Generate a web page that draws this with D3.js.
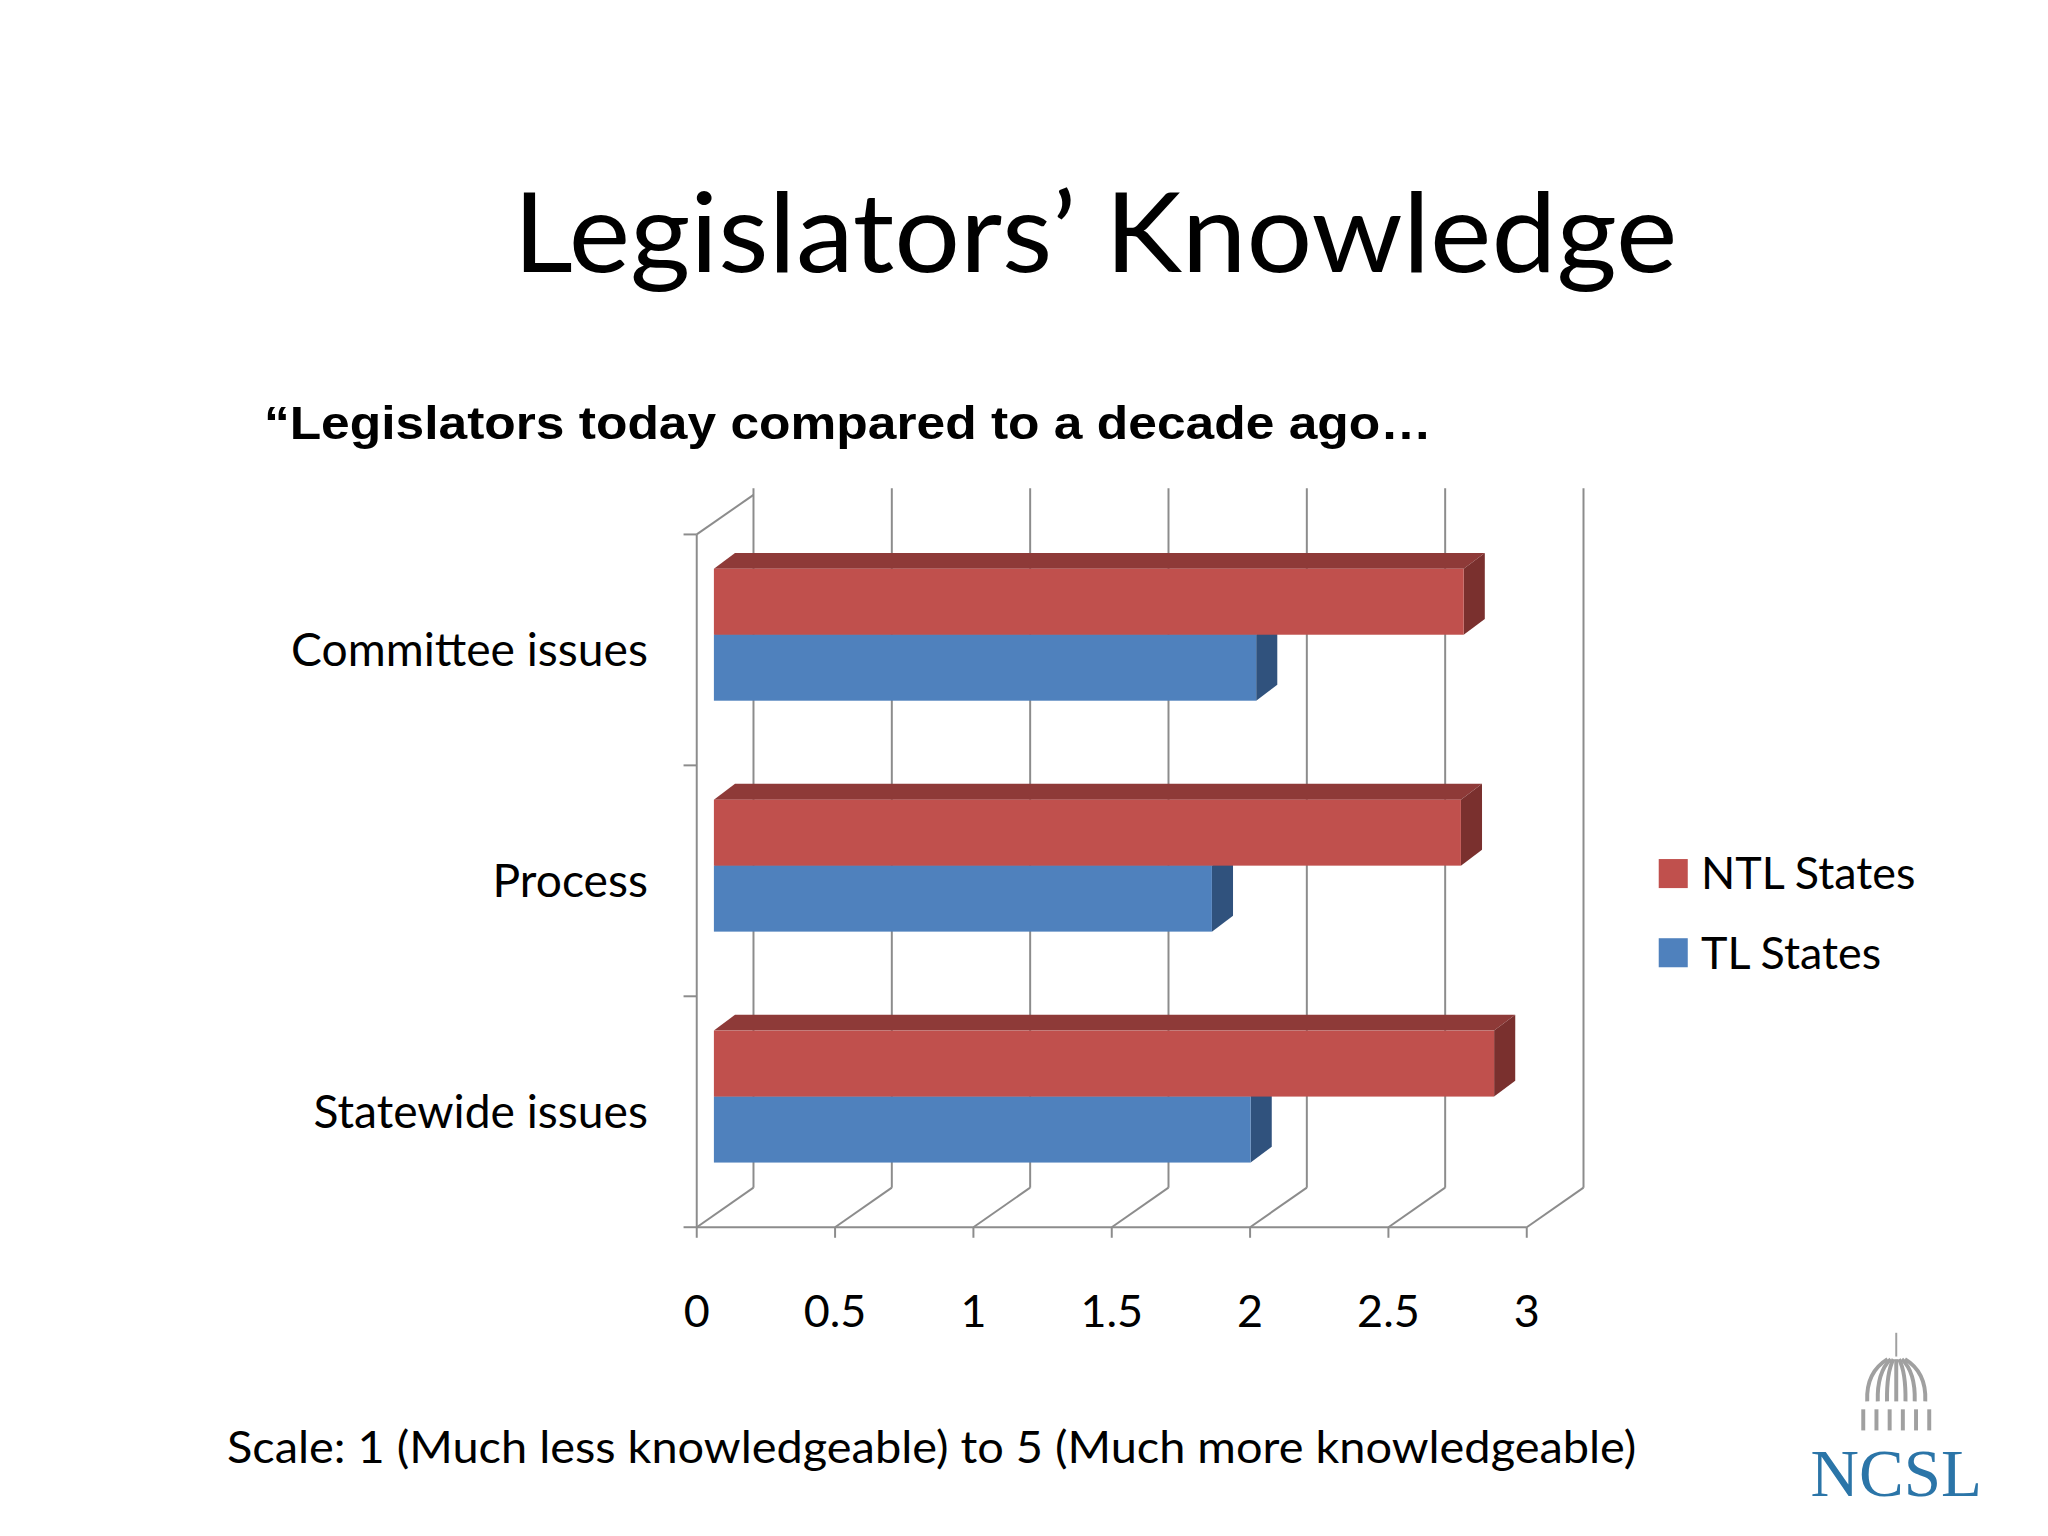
<!DOCTYPE html>
<html><head><meta charset="utf-8">
<script src="https://cdn.jsdelivr.net/npm/d3@7"></script>
<style>body{margin:0;background:#fff}</style></head>
<body><svg id="c" width="2048" height="1536" viewBox="0 0 1552 1164"></svg>
<script>
const categories = ["Committee issues","Process","Statewide issues"];
const seriesNames = ["NTL States","TL States"];
const ntlValues = [2.71, 2.70, 2.82];
const tlValues = [1.96, 1.80, 1.94];
const tickValues = [0,0.5,1,1.5,2,2.5,3];

const svg = d3.select("#c");
const F = "Lato, 'Open Sans', sans-serif";
svg.append("rect").attr("width",1552).attr("height",1164).attr("fill","#fff");
svg.append("text").attr("x",830).attr("y",206).attr("text-anchor","middle")
  .attr("font-family",F).attr("font-size",84).attr("textLength",882).attr("lengthAdjust","spacingAndGlyphs")
  .text("Legislators’ Knowledge");
svg.append("text").attr("x",200).attr("y",333).attr("font-family","'Liberation Sans', Arial, sans-serif")
  .attr("font-weight","bold").attr("font-size",35).attr("textLength",885).attr("lengthAdjust","spacingAndGlyphs")
  .text("“Legislators today compared to a decade ago…");

const x = d3.scaleLinear().domain([0,3]).range([528,1157]);
const y = d3.scaleBand().domain(categories).range([405,930]);
const DX=43, DY=-30, BX=13;
const g = svg.append("g").attr("stroke","#8c8c8c").attr("stroke-width",1.5).attr("fill","none");
tickValues.forEach(t=>{
  g.append("line").attr("x1",x(t)+DX).attr("x2",x(t)+DX).attr("y1",370).attr("y2",930+DY);
  g.append("line").attr("x1",x(t)).attr("x2",x(t)+DX).attr("y1",930).attr("y2",930+DY);
  g.append("line").attr("x1",x(t)).attr("x2",x(t)).attr("y1",930).attr("y2",938);
});
g.append("line").attr("x1",x(0)).attr("x2",x(0)).attr("y1",405).attr("y2",930);
g.append("line").attr("x1",x(0)).attr("x2",x(0)+DX).attr("y1",405).attr("y2",405+DY);
g.append("line").attr("x1",x(0)).attr("x2",x(3)).attr("y1",930).attr("y2",930);
[405,580,755,930].forEach(v=>g.append("line").attr("x1",518).attr("x2",528).attr("y1",v).attr("y2",v));

const bh = 50, tdx=16, tdy=-12;
const xs = v => x(v)+BX;
function bar(v, top, front, topC, side){
  const x0=xs(0), x1=xs(v);
  svg.append("polygon").attr("points",`${x0},${top} ${x0+tdx},${top+tdy} ${x1+tdx},${top+tdy} ${x1},${top}`).attr("fill",topC);
  svg.append("polygon").attr("points",`${x1},${top} ${x1+tdx},${top+tdy} ${x1+tdx},${top+tdy+bh} ${x1},${top+bh}`).attr("fill",side);
  svg.append("rect").attr("x",x0).attr("y",top).attr("width",x1-x0).attr("height",bh).attr("fill",front);
}
categories.forEach((c,i)=>{
  const t = y(c)+26;
  bar(tlValues[i], t+bh, "#4F81BD","#3d6597","#30527D");
  bar(ntlValues[i], t, "#C0504D","#8E3A38","#7A302E");
});

categories.forEach(c=>svg.append("text").attr("x",491).attr("y",y(c)+y.bandwidth()/2+12)
  .attr("text-anchor","end").attr("font-family",F).attr("font-size",35).text(c));
tickValues.forEach(t=>svg.append("text").attr("x",x(t)).attr("y",1006).attr("text-anchor","middle")
  .attr("font-family",F).attr("font-size",34).text(t));

const lc=["#C0504D","#4F81BD"];
seriesNames.forEach((s,i)=>{
  svg.append("rect").attr("x",1257).attr("y",651+i*60).attr("width",22).attr("height",22).attr("fill",lc[i]);
  svg.append("text").attr("x",1289).attr("y",674+i*60).attr("font-family",F).attr("font-size",34).text(s);
});

svg.append("text").attr("x",172).attr("y",1109).attr("font-family",F).attr("font-size",34)
  .attr("textLength",1068).attr("lengthAdjust","spacingAndGlyphs")
  .text("Scale: 1 (Much less knowledgeable) to 5 (Much more knowledgeable)");

const lg=svg.append("g").attr("stroke","#a0a0a0").attr("stroke-width",3);
lg.append("line").attr("x1",1437).attr("x2",1437).attr("y1",1010).attr("y2",1028).attr("stroke-width",1.5);
[-22,-14,-7,0,7,14,22].forEach(o=>{
  lg.append("path").attr("d",`M${1437+o*0.3},1030 Q${1437+o*1.05},1040 ${1437+o},1062`).attr("fill","none");
});
[-25,-15,-5,5,15,25].forEach(o=>lg.append("line").attr("x1",1437+o).attr("x2",1437+o).attr("y1",1068).attr("y2",1084));
svg.append("text").attr("x",1437).attr("y",1134).attr("text-anchor","middle").attr("font-family","'Liberation Serif', serif")
  .attr("font-size",52).attr("fill","#2b75a8").attr("textLength",130).attr("lengthAdjust","spacingAndGlyphs").text("NCSL");
</script></body></html>
